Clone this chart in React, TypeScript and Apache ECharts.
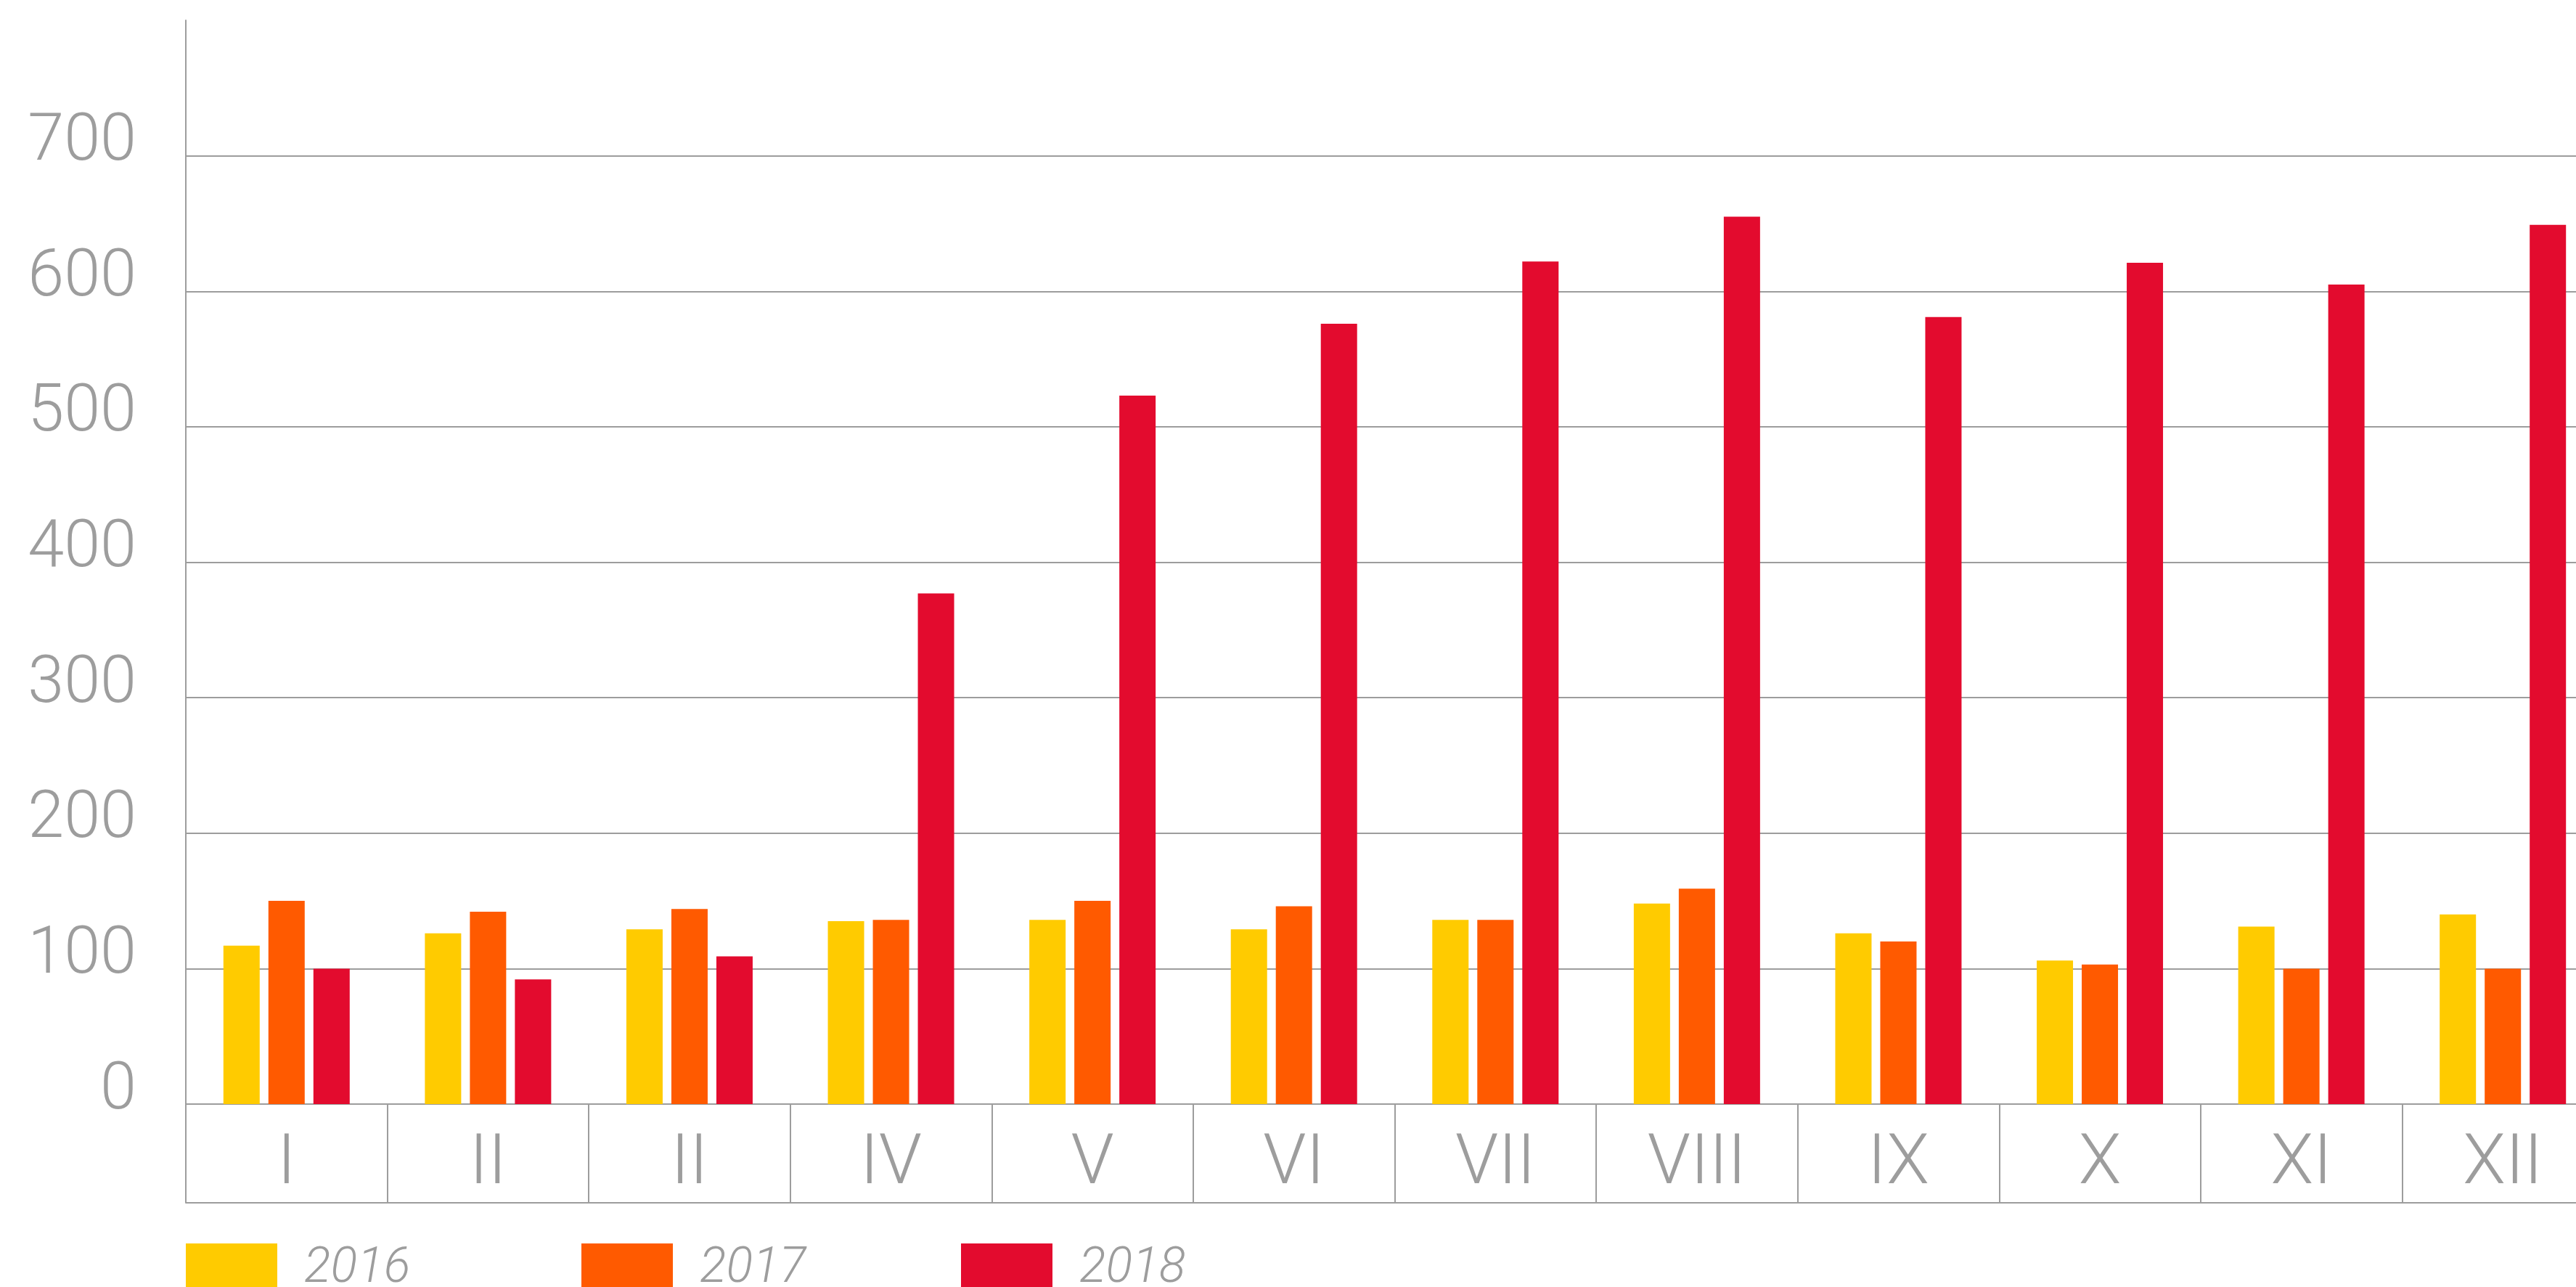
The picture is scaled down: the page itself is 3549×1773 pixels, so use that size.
import React, { useEffect, useRef } from "react";
import * as echarts from "echarts";

const categories = ["I", "II", "II", "IV", "V", "VI", "VII", "VIII", "IX", "X", "XI", "XII"];
const seriesNames = ["2016", "2017", "2018"];
const values2016 = [117, 126, 129, 135, 136, 129, 136, 148, 126, 106, 131, 140];
const values2017 = [150, 142, 144, 136, 150, 146, 136, 159, 120, 103, 100, 100];
const values2018 = [100, 92, 109, 377, 523, 576, 622, 655, 581, 621, 605, 649];
const colors = ["#FFCB00", "#FF5A00", "#E30B2E"];
const yTicks = { min: 0, max: 800, interval: 100 };
const legendLefts = [256, 801, 1324];

const GRAY = "#9d9d9d";

export default function App() {
  const ref = useRef<HTMLDivElement>(null);

  useEffect(() => {
    if (!ref.current) return;
    const chart = echarts.init(ref.current, undefined, { renderer: "svg" });
    const data = [values2016, values2017, values2018];
    chart.setOption({
      animation: false,
      backgroundColor: "#ffffff",
      grid: {
        left: 256,
        top: 28,
        bottom: 252,
        width: 3331,
        containLabel: false,
        outerBoundsMode: "none",
      },
      legend: seriesNames.map((name, i) => ({
        left: legendLefts[i],
        top: 1703,
        padding: 0,
        icon: "rect",
        itemWidth: 126,
        itemHeight: 60,
        data: [name],
        selectedMode: false,
        textStyle: {
          fontFamily: "Roboto",
          fontWeight: 300,
          fontStyle: "italic",
          fontSize: 68,
          lineHeight: 50,
          color: GRAY,
          padding: [0, 0, 30, 32],
        },
      })),
      xAxis: [
        {
          type: "category",
          data: categories,
          position: "bottom",
          axisLine: { show: true, lineStyle: { color: GRAY, width: 2 } },
          axisTick: { show: true, length: 136, interval: 0, lineStyle: { color: GRAY, width: 2 } },
          axisLabel: {
            interval: 0,
            margin: 28,
            fontFamily: "Roboto",
            fontWeight: 300,
            fontSize: 96,
            color: GRAY,
          },
          splitLine: { show: false },
        },
        {
          type: "category",
          data: categories,
          position: "bottom",
          offset: 136,
          axisLine: { show: true, lineStyle: { color: GRAY, width: 2 } },
          axisTick: { show: false },
          axisLabel: { show: false },
          splitLine: { show: false },
        },
      ],
      yAxis: {
        type: "value",
        min: yTicks.min,
        max: yTicks.max,
        interval: yTicks.interval,
        axisLine: { show: true, lineStyle: { color: GRAY, width: 2 } },
        axisTick: { show: false },
        axisLabel: {
          showMaxLabel: false,
          margin: 68,
          fontFamily: "Roboto",
          fontWeight: 300,
          fontSize: 90,
          color: GRAY,
          verticalAlign: "bottom",
          lineHeight: 50,
        },
        splitLine: { show: true, showMaxLine: false, lineStyle: { color: GRAY, width: 2 } },
      },
      series: seriesNames.map((name, i) => ({
        name,
        type: "bar",
        xAxisIndex: 0,
        data: data[i],
        barWidth: 50,
        barGap: "24%",
        itemStyle: { color: colors[i] },
      })),
    });
    return () => chart.dispose();
  }, []);

  return (
    <div
      ref={ref}
      style={{ position: "fixed", left: 0, top: 0, width: 3549, height: 1773, background: "#fff" }}
    />
  );
}
